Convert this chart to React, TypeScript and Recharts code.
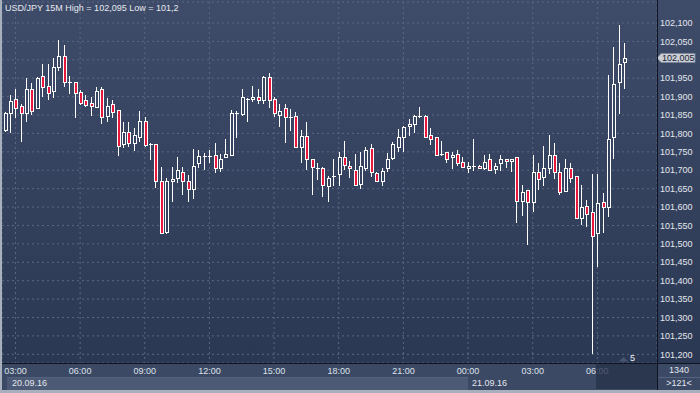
import { Bar, CartesianGrid, ComposedChart, XAxis, YAxis } from 'recharts';

// USD/JPY 15M candles, 20.09.16 02:30 .. 21.09.16 07:15
const opens = [
  101.809, 101.855, 101.893, 101.874, 101.855, 101.92, 101.868, 101.955, 101.929, 101.915,
  101.98, 102.01, 101.94, 101.939, 101.913, 101.89, 101.884, 101.872, 101.921, 101.848,
  101.879, 101.863, 101.771, 101.803, 101.773, 101.789, 101.834, 101.771, 101.77, 101.671,
  101.533, 101.671, 101.678, 101.694, 101.671, 101.648, 101.719, 101.735, 101.74, 101.741,
  101.707, 101.735, 101.741, 101.855, 101.853, 101.893, 101.893, 101.898, 101.891, 101.954,
  101.893, 101.85, 101.868, 101.844, 101.848, 101.764, 101.794, 101.73, 101.707, 101.705,
  101.658, 101.684, 101.689, 101.735, 101.712, 101.7, 101.663, 101.707, 101.76, 101.693,
  101.671, 101.705, 101.734, 101.764, 101.789, 101.82, 101.825, 101.847, 101.848, 101.796,
  101.789, 101.743, 101.749, 101.735, 101.743, 101.723, 101.707, 101.712, 101.712, 101.705,
  101.73, 101.703, 101.719, 101.73, 101.725, 101.735, 101.616, 101.646, 101.614, 101.694,
  101.682, 101.707, 101.741, 101.694, 101.644, 101.707, 101.684, 101.569, 101.604, 101.586,
  101.529, 101.614, 101.599, 101.79, 101.939, 101.993,
];
const highs = [
  101.858, 101.904, 101.922, 101.879, 101.95, 101.936, 101.954, 101.988, 101.988, 102.006,
  102.054, 102.04, 101.956, 101.94, 101.918, 101.904, 101.9, 101.927, 101.927, 101.895,
  101.891, 101.863, 101.832, 101.832, 101.814, 101.861, 101.845, 101.773, 101.771, 101.708,
  101.678, 101.708, 101.735, 101.708, 101.687, 101.759, 101.755, 101.746, 101.755, 101.773,
  101.743, 101.785, 101.864, 101.862, 101.921, 101.897, 101.929, 101.921, 101.955, 101.964,
  101.9, 101.879, 101.879, 101.866, 101.859, 101.809, 101.83, 101.731, 101.719, 101.709,
  101.684, 101.73, 101.75, 101.779, 101.726, 101.744, 101.749, 101.764, 101.77, 101.694,
  101.705, 101.746, 101.776, 101.811, 101.819, 101.839, 101.849, 101.873, 101.849, 101.814,
  101.79, 101.78, 101.75, 101.749, 101.755, 101.735, 101.723, 101.785, 101.713, 101.741,
  101.744, 101.719, 101.741, 101.731, 101.731, 101.736, 101.66, 101.647, 101.741, 101.719,
  101.766, 101.796, 101.773, 101.719, 101.73, 101.719, 101.685, 101.66, 101.619, 101.69,
  101.69, 101.637, 101.959, 102.034, 102.095, 102.046,
];
const lows = [
  101.805, 101.8, 101.843, 101.777, 101.83, 101.85, 101.866, 101.9, 101.891, 101.895,
  101.97, 101.927, 101.906, 101.843, 101.877, 101.873, 101.848, 101.868, 101.825, 101.832,
  101.841, 101.739, 101.76, 101.764, 101.753, 101.777, 101.764, 101.728, 101.652, 101.527,
  101.527, 101.614, 101.664, 101.633, 101.614, 101.623, 101.707, 101.7, 101.719, 101.693,
  101.694, 101.735, 101.739, 101.787, 101.848, 101.832, 101.885, 101.879, 101.879, 101.868,
  101.845, 101.818, 101.773, 101.807, 101.76, 101.719, 101.702, 101.634, 101.673, 101.628,
  101.614, 101.658, 101.658, 101.7, 101.678, 101.66, 101.649, 101.699, 101.682, 101.669,
  101.658, 101.694, 101.728, 101.749, 101.749, 101.794, 101.8, 101.843, 101.788, 101.768,
  101.739, 101.739, 101.719, 101.703, 101.712, 101.705, 101.692, 101.699, 101.703, 101.7,
  101.699, 101.69, 101.699, 101.707, 101.694, 101.557, 101.576, 101.497, 101.587, 101.646,
  101.658, 101.69, 101.675, 101.633, 101.643, 101.664, 101.568, 101.551, 101.545, 101.2,
  101.438, 101.529, 101.574, 101.73, 101.853, 101.92,
];
const closes = [
  101.855, 101.889, 101.868, 101.855, 101.92, 101.862, 101.95, 101.925, 101.909, 101.98,
  102.01, 101.939, 101.938, 101.909, 101.884, 101.878, 101.874, 101.914, 101.845, 101.875,
  101.859, 101.766, 101.803, 101.773, 101.795, 101.834, 101.769, 101.77, 101.671, 101.529,
  101.671, 101.676, 101.7, 101.671, 101.648, 101.712, 101.739, 101.74, 101.735, 101.705,
  101.73, 101.743, 101.855, 101.855, 101.898, 101.893, 101.899, 101.891, 101.954, 101.891,
  101.855, 101.862, 101.844, 101.844, 101.764, 101.794, 101.73, 101.708, 101.707, 101.66,
  101.678, 101.684, 101.735, 101.714, 101.705, 101.66, 101.712, 101.755, 101.694, 101.671,
  101.699, 101.73, 101.771, 101.789, 101.818, 101.825, 101.848, 101.847, 101.789, 101.784,
  101.741, 101.743, 101.73, 101.741, 101.719, 101.708, 101.712, 101.712, 101.705, 101.723,
  101.7, 101.712, 101.731, 101.725, 101.73, 101.616, 101.641, 101.614, 101.694, 101.676,
  101.707, 101.741, 101.694, 101.64, 101.707, 101.678, 101.569, 101.599, 101.581, 101.522,
  101.61, 101.599, 101.785, 101.933, 101.988, 102.005,
];

const firstBarMinutes = 2 * 60 + 30;
const barMinutes = 15;

const xTicks = [
  '20 03:00', '20 06:00', '20 09:00', '20 12:00', '20 15:00',
  '20 18:00', '20 21:00', '21 00:00', '21 03:00', '21 06:00',
];
const yTicks = [
  101.2, 101.25, 101.3, 101.35, 101.4, 101.45, 101.5, 101.55, 101.6, 101.65,
  101.7, 101.75, 101.8, 101.85, 101.9, 101.95, 102.0, 102.05, 102.1,
];
const yDomain: [number, number] = [101.1764, 102.157];

const pad = (n: number) => String(n).padStart(2, '0');
const times = opens.map((_, i) => {
  const m = firstBarMinutes + i * barMinutes;
  const day = m >= 1440 ? 21 : 20;
  const dm = m % 1440;
  return `${day} ${pad(Math.floor(dm / 60))}:${pad(dm % 60)}`;
});

const data = times.map((t, i) => ({
  t,
  open: opens[i],
  high: highs[i],
  low: lows[i],
  close: closes[i],
}));

const W = 700;
const H = 393;
const plotBottom = 363;
const axisX = 657;
const font = '"Liberation Sans", Arial, sans-serif';
const red = '#e8173c';
const bgTop = [62, 76, 106];
const bgBottom = [43, 56, 83];

function bgAt(y: number) {
  const k = Math.max(0, Math.min(1, y / plotBottom));
  const c = bgTop.map((v, i) => Math.round(v + (bgBottom[i] - v) * k));
  return `rgb(${c[0]},${c[1]},${c[2]})`;
}

function Candle(props: any) {
  const { x, y, width, height, payload } = props;
  if (x == null || y == null) return null;
  const { open, high, low, close } = payload;
  const top = Math.min(y, y + height);
  const h = Math.abs(height);
  const py = (v: number) => top + ((high - v) / (high - low)) * h;
  const col = Math.round(x + width / 2 - 0.5);
  const yh = Math.round(py(high));
  const yl = Math.round(py(low));
  const b1 = Math.round(py(Math.max(open, close)));
  const b2 = Math.round(py(Math.min(open, close)));
  const up = close >= open;
  return (
    <g>
      <rect x={col} y={yh} width={1} height={Math.max(1, yl - yh)} fill="#fff" />
      {b2 - b1 <= 1 ? (
        <rect x={col - 1} y={b1} width={4} height={1} fill="#fff" />
      ) : (
        <>
          <rect x={col - 1} y={b1} width={4} height={b2 - b1 + 1} fill="#fff" />
          <rect
            x={col}
            y={b1 + 1}
            width={2}
            height={b2 - b1 - 1}
            fill={up ? bgAt((b1 + b2) / 2) : red}
          />
        </>
      )}
    </g>
  );
}

const fmtPrice = (v: number) => v.toFixed(3).replace('.', ',');

export default function App() {
  const last = closes[closes.length - 1];
  const lastY = 2 + ((yDomain[1] - last) / (yDomain[1] - yDomain[0])) * (plotBottom - 2);
  // the tick hidden under the current-price marker gets no label
  const tickLabel = (v: number) => (Math.abs(v - last) < 0.02 ? '' : fmtPrice(v));
  return (
    <div
      style={{
        position: 'absolute',
        left: 0,
        top: 0,
        width: W,
        height: H,
        overflow: 'hidden',
        fontFamily: font,
        background: `linear-gradient(to bottom, ${bgAt(0)} 0px, ${bgAt(plotBottom)} ${plotBottom}px)`,
      }}
    >
      {/* bottom strip + date row */}
      <div style={{ position: 'absolute', left: 0, top: plotBottom, width: W, height: 27, background: '#3c4965' }} />
      <div style={{ position: 'absolute', left: 7, top: 377, width: 461, height: 12, background: '#4d5a76', borderTop: '1px solid #56637e' }} />
      <div style={{ position: 'absolute', left: 12, top: 377, fontSize: 9, lineHeight: '12px', color: '#e3e7ee' }}>20.09.16</div>
      <div style={{ position: 'absolute', left: 472, top: 377, fontSize: 9, lineHeight: '12px', color: '#e3e7ee' }}>21.09.16</div>
      <div style={{ position: 'absolute', left: axisX, top: 377, width: W - axisX, height: 1, background: '#56637e' }} />
      <div style={{ position: 'absolute', left: axisX + 1, top: 365, width: W - axisX - 1, textAlign: 'center', fontSize: 9, lineHeight: '11px', color: '#e3e7ee' }}>1340</div>
      <div style={{ position: 'absolute', left: axisX + 1, top: 378, width: W - axisX - 1, textAlign: 'center', fontSize: 9, lineHeight: '11px', color: '#e3e7ee' }}>&gt;121&lt;</div>

      <div style={{ position: 'absolute', left: 0, top: 0 }}>
        <ComposedChart width={W} height={H} data={data} margin={{ top: 2, right: 0, bottom: 0, left: 2 }}>
          <CartesianGrid stroke="#5a6884" strokeDasharray="2 3" />
          <XAxis
            dataKey="t"
            ticks={xTicks}
            interval={0}
            tickFormatter={(v: string) => v.slice(3)}
            tick={{ fill: '#dde2ea', fontSize: 9, fontFamily: font }}
            tickLine={false}
            axisLine={false}
            tickSize={0}
            tickMargin={5}
            height={30}
            padding={{ left: 0, right: 30 }}
          />
          <YAxis
            orientation="right"
            width={W - axisX}
            domain={yDomain}
            allowDataOverflow
            ticks={yTicks}
            interval={0}
            tickFormatter={tickLabel}
            tick={{ fill: '#e3e7ee', fontSize: 9, fontFamily: font }}
            tickLine={false}
            axisLine={false}
            tickSize={0}
            tickMargin={3}
          />
          <Bar
            dataKey={(d: any) => [d.low, d.high]}
            barSize={4}
            shape={<Candle />}
            isAnimationActive={false}
          />
        </ComposedChart>
      </div>

      {/* header */}
      <div style={{ position: 'absolute', left: 5, top: 2, fontSize: 9, lineHeight: '12px', color: '#e6e9ef' }}>
        USD/JPY 15M High = 102,095 Low = 101,2
      </div>

      {/* scroll thumb area and bar count marker */}
      <div style={{ position: 'absolute', left: 596, top: plotBottom + 1, width: axisX - 596, height: 25, background: 'rgba(38,49,73,0.78)' }} />
      <svg style={{ position: 'absolute', left: 0, top: 0 }} width={W} height={H}>
        <polygon points="619,361.5 623.5,357 628,361.5" fill="#4a5672" />
        <text x={630} y={361} fontSize={9} fill="#f2f4f7" fontFamily={font}>5</text>
        <polygon
          points={`${axisX},${lastY} ${axisX + 4},${lastY - 4.5} 695,${lastY - 4.5} 695,${lastY + 4.5} ${axisX + 4},${lastY + 4.5}`}
          fill="#c9ced7"
          stroke="#7d8799"
          strokeWidth={1}
        />
        <text x={axisX + 5} y={lastY + 3.3} fontSize={9} fill="#1c2333" fontFamily={font}>{fmtPrice(last)}</text>
      </svg>

      {/* frame lines */}
      <div style={{ position: 'absolute', left: axisX, top: 0, width: 1, height: 390, background: '#0e1420' }} />
      <div style={{ position: 'absolute', left: 2, top: plotBottom, width: W - 2, height: 1, background: '#0e1420' }} />
      <div style={{ position: 'absolute', left: 0, top: 0, width: 2, height: H, background: '#a9b0bd' }} />
      <div style={{ position: 'absolute', left: 0, top: 390, width: W, height: 3, background: '#a9b0bd' }} />
    </div>
  );
}
